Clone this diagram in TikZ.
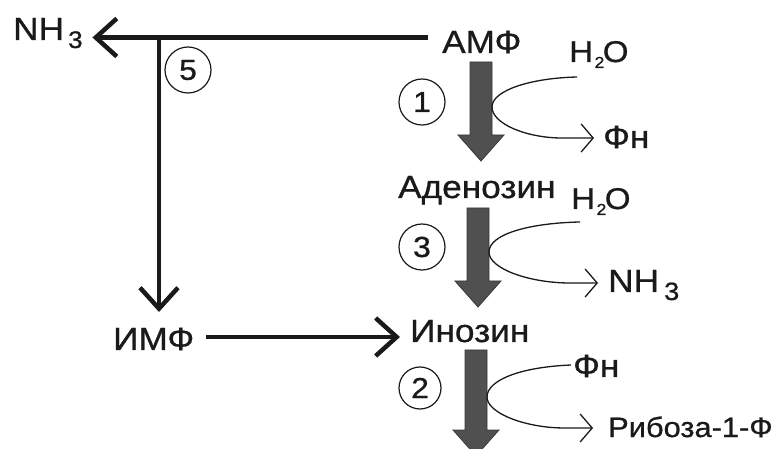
\documentclass[tikz,border=0pt]{standalone}
\usepackage{fontspec}
\setmainfont{Liberation Sans}[FakeStretch=1.1,FakeBold=0.8]
\usetikzlibrary{arrows.meta,calc}
\definecolor{bigc}{HTML}{505050}
\definecolor{bigd}{HTML}{383838}
\definecolor{ink}{HTML}{1a1a1a}
\begin{document}
\begin{tikzpicture}[x=1pt,y=-1pt,
  lbl/.style={anchor=base west, inner sep=0pt, font=\fontsize{32}{36}\selectfont, text=ink},
  thk/.style={line width=4.5pt, draw=ink, -{Straight Barb[length=21pt,width=38pt]}},
  thn/.style={line width=1.3pt, draw=ink, -{Straight Barb[length=12pt,width=28pt]}},
  num/.style={circle, draw=ink, line width=1.2pt, minimum size=46pt, inner sep=0pt, text=ink, font=\fontsize{29}{32}\selectfont},
  bigarrow/.style={fill=bigc, draw=bigd, line width=0.8pt,
    to path={let \p1=(\tikztostart), \p2=(\tikztotarget) in
      (\x1-11pt,\y1) -- (\x1+11pt,\y1) -- (\x1+11pt,\y2+26pt) -- (\x1+23pt,\y2+26pt)
      -- (\x1,\y2) -- (\x1-23pt,\y2+26pt) -- (\x1-11pt,\y2+26pt) -- cycle}}
]
\useasboundingbox (0,0) rectangle (772,449);
\clip (0,0) rectangle (772,449);
\fill[white] (0,0) rectangle (772,449);

% labels
\node[lbl] (nh3a) at (13,40) {NH\kern4pt\raisebox{-8pt}{\fontsize{24}{26}\selectfont 3}};
\node[lbl] (amf) at (442,53) {АМФ};
\node[lbl] (h2oa) at (569,62) {\fontsize{30}{32}\selectfont H\kern1.5pt\raisebox{-6pt}{\fontsize{16}{17}\selectfont 2}\kern-1.5pt O};
\node[lbl] (fna) at (603,148) {Фн};
\node[lbl] (aden) at (398,198) {Аденозин};
\node[lbl] (h2ob) at (571,209) {\fontsize{30}{32}\selectfont H\kern1.5pt\raisebox{-6pt}{\fontsize{16}{17}\selectfont 2}\kern-1.5pt O};
\node[lbl] (nh3b) at (608,292) {NH\kern5pt\raisebox{-8pt}{\fontsize{25}{27}\selectfont 3}};
\node[lbl] (imf) at (113,350) {ИМФ};
\node[lbl] (inoz) at (410,342) {Инозин};
\node[lbl] (fnb) at (573,377) {Фн};
\node[lbl, font=\fontsize{28}{30}\selectfont] (rib) at (608,437) {Рибоза-1-Ф};

% enzyme circles
\node[num] (c5) at (188,70) {5};
\node[num] (c1) at (422,102) {1};
\node[num] (c3) at (422,247) {3};
\node[num, minimum size=42pt] (c2) at (420,388) {2};

% helper coordinates
\coordinate (col1) at (481,0);
\coordinate (col3) at (478,0);
\coordinate (col2) at (476,0);
\coordinate (bot) at (476,456);
\coordinate (j) at (159,37.5);
\coordinate (hl) at (0,337);

% big grey arrows
\path[bigarrow] ($(amf.base -| col1)+(0,9)$) to ($(aden.base -| col1)+(0,-37)$);
\path[bigarrow] ($(aden.base -| col3)+(0,10)$) to ($(inoz.base -| col3)+(0,-35)$);
\path[bigarrow] ($(inoz.base -| col2)+(0,8)$) to (bot);

% thick black connectors
\draw[thk, shorten <=14pt, shorten >=9.5pt] (amf.west |- j) -- (nh3a.east |- j);
\draw[thk] (j) -- ($(imf.base -| j)+(0,-38)$);
\draw[thk, shorten <=12pt, shorten >=10pt] (imf.east |- hl) -- (inoz.west |- hl);

% thin side curves
\draw[thn] ($(h2oa.base west)+(8,15)$) .. controls +(-45,1) and +(0,-17) .. (492,107)
  .. controls +(0,17) and +(-35,0) .. (562,138) -- ($(fna.base west)+(-9,-10)$);
\draw[thn] ($(h2ob.base west)+(9,13)$) .. controls +(-50,1) and +(0,-18) .. (489,252)
  .. controls +(0,17) and +(-40,0) .. (570,283) -- ($(nh3b.base west)+(-10,-9)$);
\draw[thn] ($(fnb.base west)+(-2,-12)$) .. controls +(-50,2) and +(0,-17) .. (487,397)
  .. controls +(0,16) and +(-40,0) .. (565,428) -- ($(rib.base west)+(-15,-9)$);
\end{tikzpicture}
\end{document}
